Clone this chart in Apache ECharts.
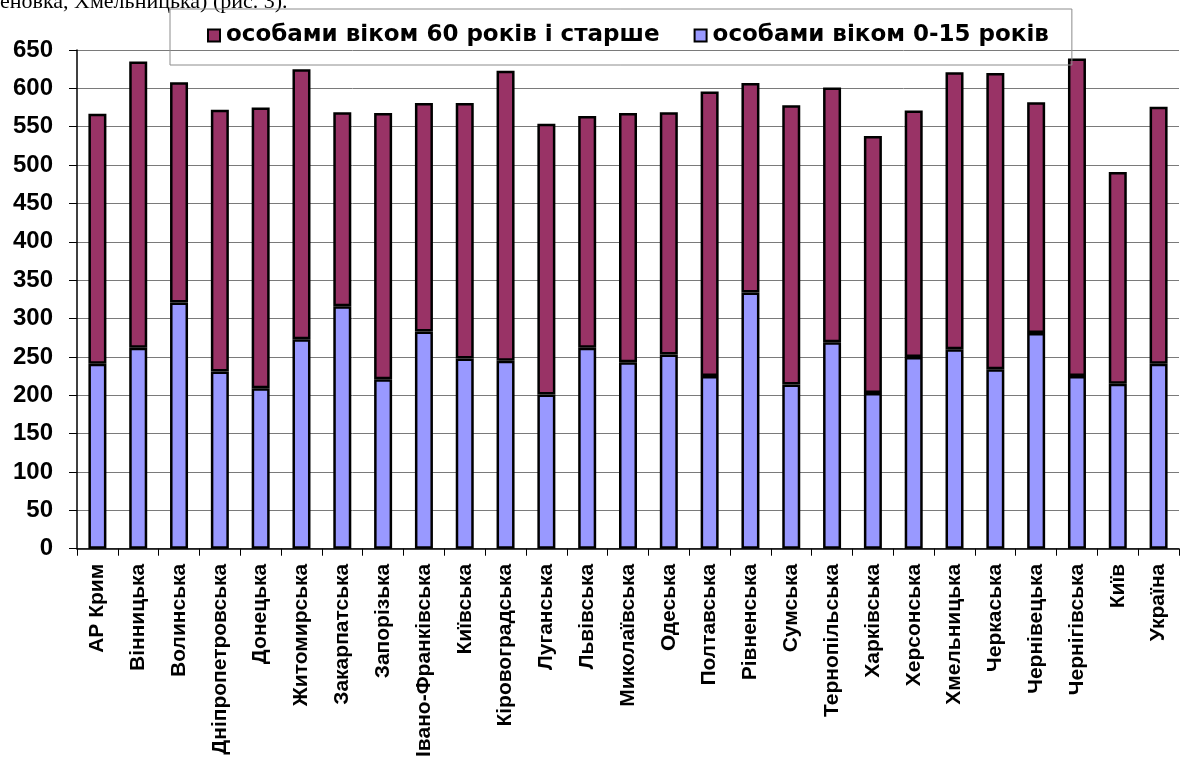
<!DOCTYPE html>
<html>
<head>
<meta charset="utf-8">
<style>
  html, body { margin: 0; padding: 0; background: #ffffff; overflow: hidden; }
  #chart { width: 1180px; height: 760px; }
</style>
<script src="https://cdn.jsdelivr.net/npm/echarts@6/dist/echarts.min.js"></script>
</head>
<body>
<div id="chart"></div>
<script>
const categories = ["АР Крим", "Вінницька", "Волинська", "Дніпропетровська", "Донецька", "Житомирська", "Закарпатська", "Запорізька", "Івано-Франківська", "Київська", "Кіровоградська", "Луганська", "Львівська", "Миколаївська", "Одеська", "Полтавська", "Рівненська", "Сумська", "Тернопільська", "Харківська", "Херсонська", "Хмельницька", "Черкаська", "Чернівецька", "Чернігівська", "Київ", "Україна"];
const seriesYoungName = "особами віком 0-15 років";
const seriesOldName = "особами віком 60 років і старше";
const youngValues = [241, 262, 321, 231, 209, 273, 316, 221, 283, 248, 245, 201, 262, 243, 253, 225, 334, 214, 269, 203, 250, 260, 234, 281, 225, 215, 241];
const oldValues = [326, 373, 287, 341, 366, 352, 253, 347, 298, 333, 378, 353, 302, 325, 316, 371, 273, 364, 332, 335, 321, 361, 386, 301, 414, 276, 335];
const yTicks = { min: 0, max: 650, interval: 50 };
const headerText = "еновка, Хмельницька) (рис. 3).";

const chart = echarts.init(document.getElementById('chart'), null, { renderer: 'canvas', width: 1180, height: 760 });
const fontFam = '"Liberation Sans", Arial, sans-serif';
chart.setOption({
  animation: false,
  backgroundColor: '#ffffff',
  graphic: [{
    type: 'text',
    left: 0,
    top: -9,
    style: {
      text: headerText,
      font: '22px "Liberation Serif", "Times New Roman", serif',
      fill: '#000000'
    }
  }],
  legend: {
    left: 170,
    top: 9,
    orient: 'horizontal',
    data: [seriesOldName, seriesYoungName],
    icon: 'rect',
    itemWidth: 12,
    itemHeight: 12,
    itemGap: 34,
    padding: [15, 23, 18, 37],
    borderColor: '#8c8c8c',
    borderWidth: 1,
    textStyle: { fontFamily: '"DejaVu Sans", sans-serif', fontWeight: 'bold', fontSize: 23, color: '#000000', padding: [0, 0, 0, 1] }
  },
  grid: { left: 77, top: 50, height: 503, width: 1102, containLabel: false },
  xAxis: {
    type: 'category',
    data: categories,
    boundaryGap: true,
    axisLine: { show: true, lineStyle: { color: '#000000', width: 1.5 } },
    axisTick: { show: true, alignWithLabel: false, length: 7, lineStyle: { color: '#000000', width: 1 } },
    axisLabel: {
      interval: 0,
      rotate: 90,
      margin: 15,
      fontFamily: fontFam,
      fontWeight: 'bold',
      fontSize: 21,
      color: '#000000'
    }
  },
  yAxis: {
    type: 'value',
    min: yTicks.min,
    max: yTicks.max,
    interval: yTicks.interval,
    axisLine: { show: true, lineStyle: { color: '#000000', width: 1.5 } },
    axisTick: { show: true, length: 8, lineStyle: { color: '#000000', width: 1 } },
    splitLine: { show: true, lineStyle: { color: '#7a7a7a', width: 1 } },
    axisLabel: {
      margin: 24,
      fontFamily: fontFam,
      fontWeight: 'bold',
      fontSize: 24,
      color: '#000000'
    }
  },
  series: [
    {
      name: seriesYoungName,
      type: 'bar',
      stack: 'total',
      barWidth: 18,
      data: youngValues,
      itemStyle: { color: '#9999FF', borderColor: '#000000', borderWidth: 2.5 }
    },
    {
      name: seriesOldName,
      type: 'bar',
      stack: 'total',
      barWidth: 18,
      data: oldValues,
      itemStyle: { color: '#993366', borderColor: '#000000', borderWidth: 2.5 }
    }
  ]
});
</script>
</body>
</html>
